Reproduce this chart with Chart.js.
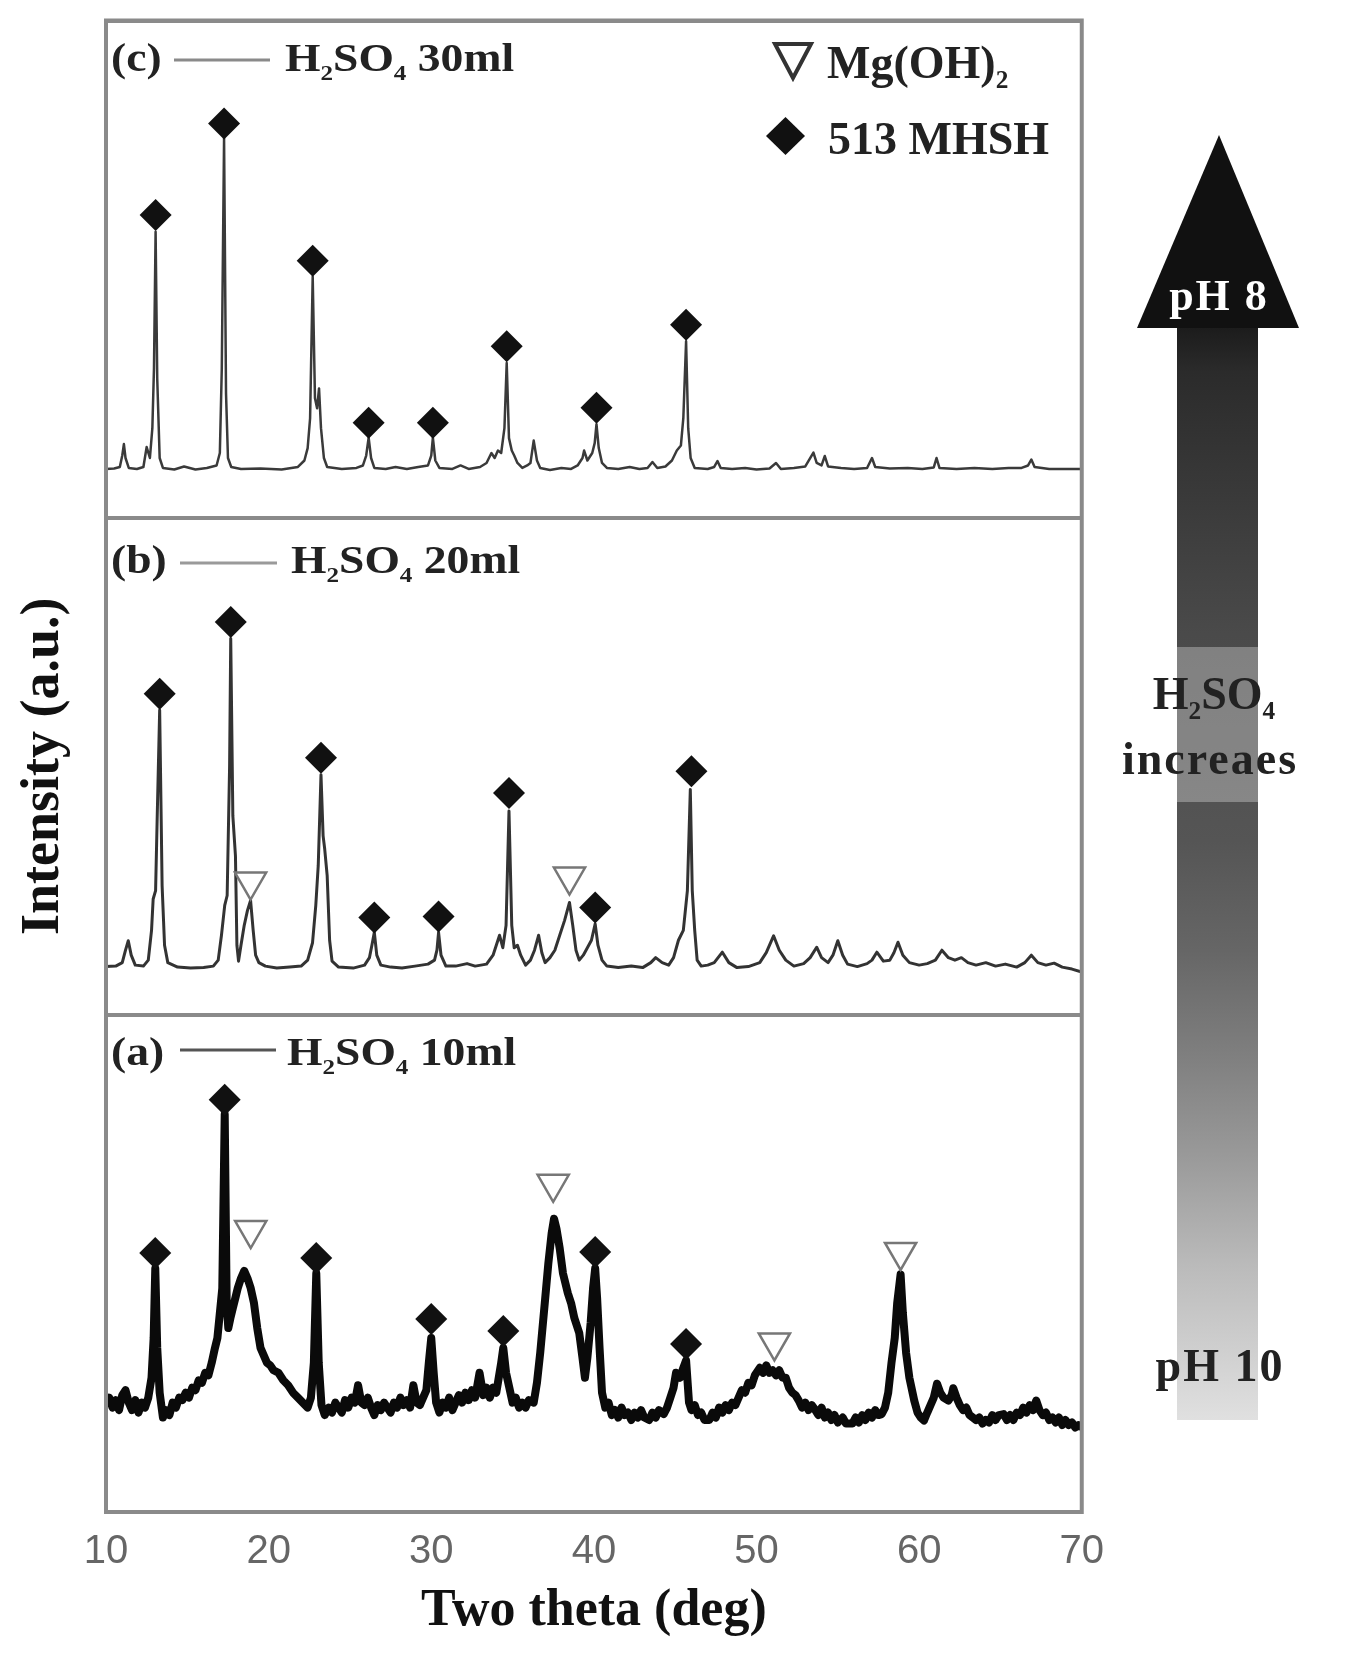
<!DOCTYPE html>
<html>
<head>
<meta charset="utf-8">
<script src="https://cdn.jsdelivr.net/npm/chart.js@4.4.1/dist/chart.umd.min.js"></script>
<style>
  html, body { margin: 0; padding: 0; background: #fff; }
  #wrap { position: relative; width: 1349px; height: 1658px; overflow: hidden; }
  #xrd { position: absolute; left: 0; top: 0; }
  #overlay { position: absolute; left: 0; top: 0; pointer-events: none; }
  .t { position: absolute; font-family: 'Liberation Serif', 'Times New Roman', serif; font-weight: bold;
       color: #222; line-height: 1; white-space: nowrap; transform-origin: 0 50%; }
  .t sub { font-size: 0.55em; vertical-align: -0.4em; line-height: 0; }
  .c { transform: translateX(-50%); }
</style>
</head>
<body>
<div id="wrap">
  <canvas id="xrd" width="1120" height="1658"></canvas>

  <svg id="overlay" width="1349" height="1658">
    <defs>
      <linearGradient id="shaft" gradientUnits="userSpaceOnUse" x1="0" y1="328" x2="0" y2="1420">
        <stop offset="0" stop-color="#1c1c1c"/>
        <stop offset="0.04" stop-color="#2b2b2b"/>
        <stop offset="0.18" stop-color="#3d3d3d"/>
        <stop offset="0.28" stop-color="#4a4a4a"/>
        <stop offset="0.47" stop-color="#555"/>
        <stop offset="0.57" stop-color="#666"/>
        <stop offset="0.67" stop-color="#808080"/>
        <stop offset="0.76" stop-color="#9a9a9a"/>
        <stop offset="0.86" stop-color="#bbb"/>
        <stop offset="1" stop-color="#e0e0e0"/>
      </linearGradient>
    </defs>
    <!-- pH arrow -->
    <polygon points="1219,135 1299,328 1137,328" fill="#111"/>
    <rect x="1177" y="328" width="81" height="1092" fill="url(#shaft)"/>
    <rect x="1177" y="647" width="81" height="155" fill="#fff" fill-opacity="0.3"/>
    <!-- panel legend lines -->
    <line x1="174" y1="60" x2="270" y2="60" stroke="#8a8a8a" stroke-width="3"/>
    <line x1="180" y1="563" x2="277" y2="563" stroke="#9a9a9a" stroke-width="3"/>
    <line x1="180" y1="1050" x2="276" y2="1050" stroke="#555" stroke-width="3"/>
    <!-- phase legend symbols -->
    <polygon points="775,44 811,44 793,78" fill="none" stroke="#333" stroke-width="4"/>
    <polygon points="766,136 785.5,117 805,136 785.5,155" fill="#111"/>
  </svg>

  <div class="t" style="left:111px; top:38px; font-size:40px; transform:scaleX(1.14)">(c)</div>
  <div class="t" style="left:285px; top:38px; font-size:40px; transform:scaleX(1.14)">H<sub>2</sub>SO<sub>4</sub> 30ml</div>
  <div class="t" style="left:111px; top:540px; font-size:40px; transform:scaleX(1.14)">(b)</div>
  <div class="t" style="left:291px; top:540px; font-size:40px; transform:scaleX(1.14)">H<sub>2</sub>SO<sub>4</sub> 20ml</div>
  <div class="t" style="left:111px; top:1032px; font-size:40px; transform:scaleX(1.14)">(a)</div>
  <div class="t" style="left:287px; top:1032px; font-size:40px; transform:scaleX(1.14)">H<sub>2</sub>SO<sub>4</sub> 10ml</div>

  <div class="t" style="left:827px; top:40px; font-size:46px;">Mg(OH)<sub>2</sub></div>
  <div class="t" style="left:828px; top:116px; font-size:46px;">513 MHSH</div>

  <div class="t c" style="left:1219px; top:274px; font-size:44px; color:#fff; letter-spacing:2px;">pH 8</div>
  <div class="t c" style="left:1214px; top:671px; font-size:46px;">H<sub>2</sub>SO<sub>4</sub></div>
  <div class="t c" style="left:1210px; top:736px; font-size:46px; letter-spacing:2px;">increaes</div>
  <div class="t c" style="left:1220px; top:1343px; font-size:46px; letter-spacing:2px;">pH 10</div>
</div>

<script>
// XRD patterns: [2theta (deg), intensity within panel (0-100)]
const patternC = [
  [10.0,9.8],[10.5,9.9],[10.85,10.2],[11.0,12.5],[11.1,14.8],[11.2,12],[11.4,10],[11.9,9.8],[12.3,10.2],
  [12.5,14.2],[12.7,12],[12.85,18],[12.95,30],[13.05,57.5],[13.15,28],[13.3,12],[13.5,10],[14.2,9.7],
  [14.8,10.3],[15.5,9.7],[16.2,10],[16.8,10.5],[17.0,13],[17.12,30],[17.26,76.3],[17.38,25],[17.5,12],
  [17.7,10.2],[18.3,9.8],[19.5,9.9],[20.8,9.7],[21.8,10.2],[22.2,11.5],[22.4,14],[22.55,20],[22.71,48.5],
  [22.85,24],[22.98,22],[23.1,26],[23.22,18],[23.4,12],[23.6,10.2],[24.5,9.8],[25.4,10],[25.8,10.5],
  [26.0,12.5],[26.15,16.1],[26.3,12],[26.5,10],[27.2,9.8],[27.8,10.2],[28.5,9.8],[29.2,10.2],[29.8,10.5],
  [30.0,12.5],[30.1,16.1],[30.25,11.5],[30.5,10],[31.3,9.8],[31.8,10.5],[32.3,9.8],[33.0,10.2],[33.4,11],
  [33.7,13],[33.9,12],[34.1,13.5],[34.3,13],[34.5,18],[34.64,31.1],[34.78,16],[34.95,13.5],[35.1,12.5],
  [35.3,11],[35.6,10],[35.9,10.5],[36.1,11],[36.3,15.5],[36.5,11.5],[36.7,10],[37.3,9.6],[38.0,10],
  [38.6,9.8],[39.0,10.5],[39.3,12],[39.4,13.5],[39.6,11.5],[39.9,13],[40.05,15],[40.16,18.8],[40.3,14],
  [40.5,11],[40.8,10],[41.5,9.8],[42.2,10.2],[42.8,9.8],[43.3,10],[43.6,11.2],[43.9,10],[44.4,10.3],
  [44.8,11.5],[45.1,13.5],[45.35,14.5],[45.5,20],[45.67,35.5],[45.8,18],[45.95,12],[46.2,10],[47.0,9.8],
  [47.4,10.2],[47.6,11.4],[47.8,10],[48.5,9.8],[49.3,10],[50.0,9.7],[50.8,9.9],[51.2,11],[51.5,9.8],
  [52.3,10],[53.0,10.3],[53.3,12],[53.5,13.1],[53.7,11],[54.0,10.5],[54.2,12.4],[54.4,10.3],[55.2,10],
  [56.0,9.8],[56.8,10],[57.1,12],[57.3,10.2],[58.2,9.9],[59.3,10],[60.2,9.8],[60.9,10.1],[61.07,12],
  [61.25,10],[62.3,9.8],[63.4,10],[64.5,9.8],[65.5,10],[66.3,10],[66.7,10.5],[66.9,11.7],[67.1,10.2],
  [68.0,9.8],[69.0,9.8],[70.0,9.8]
];

const patternB = [
  [10.0,9.7],[10.6,9.8],[11.0,10.5],[11.2,13],[11.37,14.9],[11.55,12],[11.8,10],[12.3,9.8],[12.6,11],
  [12.8,17],[12.9,23.3],[13.05,25],[13.15,40],[13.3,61.3],[13.45,26],[13.6,14],[13.8,10.5],[14.4,9.6],
  [15.2,9.4],[16.0,9.5],[16.6,9.8],[16.9,11],[17.1,16],[17.3,22],[17.45,24],[17.6,50],[17.67,75.7],
  [17.8,40],[17.96,32],[18.05,14],[18.15,10.8],[18.3,14],[18.5,18],[18.7,21],[18.89,23],[19.05,17],
  [19.2,12],[19.4,10.5],[19.8,9.8],[20.5,9.4],[21.3,9.6],[22.0,9.8],[22.4,11],[22.7,14.5],[22.9,22],
  [23.05,30],[23.22,48.3],[23.35,36],[23.45,33.3],[23.6,28],[23.75,15],[23.9,10.8],[24.3,9.6],[25.2,9.4],
  [25.9,10],[26.2,11.5],[26.35,14],[26.5,16.6],[26.65,12],[26.9,10],[27.5,9.6],[28.2,9.4],[29.0,9.8],
  [29.8,10.2],[30.2,11],[30.35,13],[30.45,16.6],[30.6,12],[30.9,9.8],[31.5,9.8],[32.2,10.3],[32.7,9.8],
  [33.4,10.2],[33.8,12],[34.0,14],[34.2,16],[34.4,13.5],[34.6,18],[34.78,41],[34.95,18],[35.1,13.5],
  [35.3,14],[35.5,12],[35.8,10],[36.1,11],[36.35,13],[36.6,16],[36.8,12.5],[37.0,10.5],[37.3,11.5],
  [37.6,13],[37.9,16],[38.2,19],[38.5,22.6],[38.7,18],[38.9,13],[39.1,11],[39.35,12],[39.6,13.5],
  [39.85,15],[40.08,18.3],[40.25,14],[40.5,11],[40.8,9.8],[41.5,9.5],[42.3,9.8],[43.0,9.5],[43.5,10.5],
  [43.8,11.5],[44.2,10.5],[44.6,10],[44.9,11.5],[45.2,15],[45.5,17],[45.75,25],[45.93,45.3],[46.05,25],
  [46.2,17],[46.35,11],[46.6,9.8],[47.0,10],[47.4,10.5],[47.9,12.6],[48.3,10.5],[48.8,9.5],[49.5,9.7],
  [50.2,10.5],[50.6,12.5],[51.05,15.9],[51.4,13],[51.8,11],[52.3,9.8],[52.9,10.3],[53.3,11.5],[53.7,13.6],
  [54.0,11.5],[54.4,10.5],[54.7,12],[55.0,14.9],[55.3,12],[55.6,10.2],[56.2,9.7],[56.8,10.3],[57.1,11],
  [57.4,12.6],[57.8,10.8],[58.2,11],[58.45,12.5],[58.7,14.6],[59.0,12],[59.4,10.5],[60.0,10],[60.5,10.3],
  [61.0,11],[61.4,13],[61.8,11.5],[62.2,11],[62.6,11.5],[63.0,10.5],[63.5,10],[64.1,10.5],[64.7,9.8],
  [65.3,10.2],[66.0,9.6],[66.5,10.5],[66.9,12],[67.3,10.5],[67.8,10],[68.3,10.4],[68.8,9.6],[69.4,9.2],
  [70.0,8.6]
];

const patternA = [
  [10.0,21.5],[10.2,23],[10.4,21],[10.6,22.5],[10.8,20.5],[11.0,23.5],[11.2,24.5],[11.4,22],[11.6,20.5],
  [11.8,22.5],[12.0,20],[12.2,22],[12.4,21],[12.6,23],[12.8,27],[12.93,35],[13.03,49],[13.15,33],[13.3,24],
  [13.5,19],[13.7,20.5],[13.9,19.5],[14.1,22],[14.3,21],[14.5,23],[14.7,22.5],[14.9,24],[15.1,23],[15.3,25],
  [15.5,24.5],[15.7,26.5],[15.9,26],[16.1,28],[16.3,27.5],[16.5,30],[16.7,33],[16.85,35],[17.0,40],
  [17.15,45],[17.3,80],[17.42,42],[17.52,37],[17.65,39],[17.8,41],[17.95,43],[18.1,45],[18.3,47],
  [18.5,48.5],[18.7,47],[18.9,45],[19.1,42],[19.3,37],[19.5,33],[19.7,31.5],[19.9,30],[20.1,29.5],
  [20.3,28.5],[20.6,28],[20.9,26.5],[21.2,25.5],[21.5,24],[21.8,23],[22.1,22],[22.4,21],[22.6,23],
  [22.78,30],[22.93,48],[23.08,30],[23.25,21.5],[23.45,19.5],[23.7,21],[23.9,20],[24.1,22],[24.3,21],
  [24.5,20],[24.7,22.5],[24.9,21],[25.1,23],[25.3,22],[25.5,25.5],[25.7,22],[25.9,21.5],[26.1,23],
  [26.3,21],[26.5,19.5],[26.7,21.5],[26.9,20.5],[27.1,22],[27.3,21],[27.5,20],[27.7,22],[27.9,21],
  [28.1,23],[28.3,21.5],[28.5,22.5],[28.7,21],[28.9,25.5],[29.1,22],[29.3,21.5],[29.5,23],[29.7,24.5],
  [29.85,30],[30.0,35],[30.15,28],[30.3,22],[30.5,20],[30.7,22],[30.9,21],[31.1,23],[31.3,20.5],[31.5,22],
  [31.7,23.5],[31.9,22],[32.1,24],[32.3,22.5],[32.5,24.5],[32.7,23],[32.97,28],[33.2,23.5],[33.4,25],
  [33.6,23],[33.8,25],[34.0,24],[34.15,27],[34.3,30],[34.43,33],[34.6,28],[34.8,25],[35.0,22],[35.2,23],
  [35.4,21],[35.6,22],[35.8,21],[36.0,22.5],[36.3,22],[36.5,26],[36.7,32],[36.98,42],[37.2,50],[37.4,56],
  [37.55,59],[37.7,57],[37.9,53],[38.1,48],[38.4,44],[38.6,42],[38.8,39],[39.1,36],[39.3,31],[39.45,27],
  [39.6,31],[39.8,38],[39.95,45],[40.08,49],[40.2,43],[40.35,33],[40.5,24],[40.7,21],[40.9,22],[41.1,19.5],
  [41.3,20.5],[41.5,19],[41.7,21],[41.9,19.5],[42.1,20],[42.3,18.5],[42.5,20],[42.7,19],[42.9,20.5],
  [43.1,19],[43.4,18.5],[43.6,20],[43.8,19],[44.0,20.5],[44.3,19.7],[44.5,21],[44.7,23],[44.9,25],
  [45.05,28],[45.3,27],[45.5,29],[45.67,30.5],[45.85,22],[46.0,20.5],[46.2,21.5],[46.4,19.5],[46.6,20],
  [46.8,18.5],[47.1,18.5],[47.3,20],[47.5,19],[47.7,21],[47.9,20],[48.1,21.5],[48.3,20.5],[48.5,22],
  [48.7,21.5],[48.9,23],[49.1,24.5],[49.3,24],[49.5,26],[49.7,25.5],[49.9,27.5],[50.2,29],[50.4,28],
  [50.6,29.5],[50.8,28],[51.0,28.5],[51.2,27.5],[51.4,28.5],[51.6,27],[51.8,27],[52.0,25],[52.2,24],
  [52.4,23.5],[52.6,22.4],[52.8,21],[53.0,22],[53.2,20.5],[53.4,21.5],[53.6,20.6],[53.8,19.5],[54.0,21],
  [54.2,19],[54.4,20],[54.6,18.5],[54.8,19.5],[55.0,18],[55.3,19],[55.5,17.8],[55.9,17.8],[56.1,19],
  [56.3,18],[56.5,19.5],[56.7,18.5],[56.9,20],[57.1,19],[57.3,20.5],[57.5,19.5],[57.7,19.7],[57.9,21],
  [58.1,24],[58.3,30],[58.5,35],[58.65,42],[58.86,47.8],[59.0,40],[59.2,32],[59.4,27],[59.7,22.4],
  [59.9,20],[60.1,19],[60.3,18.4],[60.5,20],[60.7,21.5],[60.9,23],[61.1,25.8],[61.3,24],[61.5,23],
  [61.8,22.4],[62.0,23.5],[62.1,24.9],[62.3,23],[62.5,21.5],[62.7,20.5],[62.9,21],[63.1,19.5],[63.3,19],
  [63.5,18.5],[63.7,19],[63.9,17.8],[64.1,18.5],[64.3,18],[64.5,19.5],[64.7,18.5],[64.9,19.5],[65.2,19.7],
  [65.4,18.5],[65.6,19.5],[65.8,18.5],[66.0,20],[66.2,19.5],[66.4,21],[66.6,20],[66.8,21.5],[67.0,20.5],
  [67.2,22.4],[67.4,20.5],[67.6,19.5],[67.8,20],[68.0,18.5],[68.2,19],[68.4,18],[68.6,19],[68.8,17.5],
  [69.0,18.5],[69.2,17.5],[69.4,18],[69.6,17],[69.8,17.5],[70.0,17]
];

// phase markers: 513 MHSH (diamond) and Mg(OH)2 (open triangle)
const mhshC_x = [13.05, 17.26, 22.71, 26.15, 30.1, 34.64, 40.16, 45.67];
const mhshC_y = [60.9, 79.3, 51.7, 19.1, 19.1, 34.5, 22.1, 38.8];
const mhshB_x = [13.3, 17.67, 23.22, 26.5, 30.45, 34.78, 40.08, 46.0];
const mhshB_y = [64.6, 79.0, 51.7, 19.6, 19.8, 44.6, 21.6, 49.0];
const mhshA_x = [13.03, 17.3, 22.93, 30.0, 34.43, 40.08, 45.67];
const mhshA_y = [52.1, 82.9, 51.1, 38.8, 36.4, 52.3, 33.8];
const mgohB_x = [18.89, 38.5];
const mgohB_y = [26.8, 27.8];
const mgohA_x = [18.9, 37.5, 51.1, 58.86];
const mgohA_y = [56.7, 66.0, 34.1, 52.3];

const panelOffset = { a: 0, b: 100, c: 200 };
const xTicks = [10, 20, 30, 40, 50, 60, 70];

const curve = (pts, off, color, w) => ({
  data: pts.map(([x, y]) => ({ x, y: y + off })),
  showLine: true, borderColor: color, borderWidth: w, borderJoinStyle: 'round',
  pointRadius: 0, tension: 0, order: 3
});
const diamonds = (xs, ys, off) => ({
  data: xs.map((x, i) => ({ x, y: ys[i] + off })),
  showLine: false, pointStyle: 'rectRot', pointRadius: 16,
  pointBackgroundColor: '#111', pointBorderWidth: 0, order: 1
});
const triangles = (xs, ys, off) => ({
  data: xs.map((x, i) => ({ x, y: ys[i] + off })),
  showLine: false, pointStyle: 'triangle', pointRotation: 180, pointRadius: 18,
  pointBackgroundColor: '#fff', pointBorderColor: '#777', pointBorderWidth: 2.5, order: 1
});

const frame = {
  id: 'frame',
  afterDraw(c) {
    const { ctx, chartArea: a } = c;
    ctx.save();
    ctx.strokeStyle = '#8a8a8a';
    ctx.lineWidth = 4;
    ctx.strokeRect(a.left, a.top, a.right - a.left, a.bottom - a.top);
    ctx.restore();
  }
};

new Chart(document.getElementById('xrd'), {
  type: 'scatter',
  data: {
    datasets: [
      curve(patternC, panelOffset.c, '#3a3a3a', 2.5),
      curve(patternB, panelOffset.b, '#333', 3),
      curve(patternA, panelOffset.a, '#0a0a0a', 8),
      diamonds(mhshC_x, mhshC_y, panelOffset.c),
      diamonds(mhshB_x, mhshB_y, panelOffset.b),
      diamonds(mhshA_x, mhshA_y, panelOffset.a),
      triangles(mgohB_x, mgohB_y, panelOffset.b),
      triangles(mgohA_x, mgohA_y, panelOffset.a)
    ]
  },
  options: {
    responsive: false,
    animation: false,
    devicePixelRatio: 1,
    layout: { padding: { top: 15, right: 35, bottom: 0, left: 0 } },
    plugins: { legend: { display: false }, tooltip: { enabled: false } },
    scales: {
      x: {
        type: 'linear', min: 10, max: 70,
        afterBuildTicks: s => { s.ticks = xTicks.map(v => ({ value: v })); },
        ticks: { color: '#666', padding: 16,
                 font: { family: "'Liberation Sans Narrow', 'Liberation Sans', Arial", size: 40 } },
        grid: { display: false, drawTicks: false },
        border: { display: false },
        title: { display: true, text: 'Two theta (deg)', color: '#111', padding: { top: 0, bottom: 15 },
                 font: { family: "'Liberation Serif', 'Times New Roman', serif", size: 52, weight: 'bold' } },
        afterFit: s => { s.height = 146; }
      },
      y: {
        min: 0, max: 300,
        ticks: { display: false, stepSize: 100 },
        grid: { color: '#8a8a8a', lineWidth: 4, drawTicks: false },
        border: { display: false },
        title: { display: true, text: 'Intensity (a.u.)', color: '#111', padding: { top: 12, bottom: 0 },
                 font: { family: "'Liberation Serif', 'Times New Roman', serif", size: 54, weight: 'bold' } },
        afterFit: s => { s.width = 106; }
      }
    }
  },
  plugins: [frame]
});
</script>
</body>
</html>
